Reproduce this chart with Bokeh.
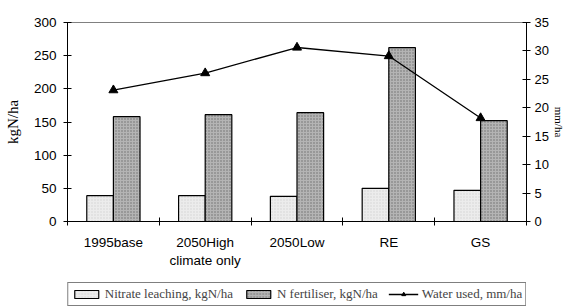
import numpy as np
from bokeh.plotting import figure
from bokeh.layouts import column
from bokeh.models import Range1d, LinearAxis, FixedTicker, Legend, LegendItem, ColumnDataSource
from bokeh.embed import file_html
from bokeh.resources import INLINE

categories = ["1995base", "2050High\nclimate only", "2050Low", "RE", "GS"]
nitrate = [39, 39, 38, 50, 47]
fertiliser = [158, 161, 164, 262, 152]
water = [23.1, 26.1, 30.6, 29.1, 18.2]
series_names = ["Nitrate leaching, kgN/ha", "N fertiliser, kgN/ha", "Water used, mm/ha"]

idx = np.arange(len(categories)) + 0.5
src = ColumnDataSource(dict(
    x_n=idx - 0.145, x_f=idx + 0.145, x=idx,
    nitrate=nitrate, fert=fertiliser, water=water))

nit_style = dict(fill_color="#ececec", line_color="black", line_width=1.2,
                 hatch_pattern="dot", hatch_color="#d2d2d2", hatch_scale=3, hatch_weight=1)
fert_style = dict(fill_color="#b4b4b4", line_color="black", line_width=1.2,
                  hatch_pattern="dot", hatch_color="#6e6e6e", hatch_scale=3, hatch_weight=1.5)

p = figure(output_backend="svg", toolbar_location=None,
           width=567, height=270,
           min_border_left=67, min_border_right=32, min_border_top=22, min_border_bottom=48,
           x_range=Range1d(0, len(categories)), y_range=Range1d(0, 300),
           x_axis_location=None, y_axis_location=None)
p.extra_y_ranges = {"water": Range1d(0, 35)}
p.xgrid.visible = False
p.ygrid.visible = False
p.outline_line_color = "#808080"
p.outline_line_width = 1

tick_font = "Liberation Sans"
serif = "Liberation Serif"

yl = LinearAxis(ticker=FixedTicker(ticks=list(range(0, 301, 50))), axis_label="kgN/ha")
yr = LinearAxis(y_range_name="water", ticker=FixedTicker(ticks=list(range(0, 36, 5))), axis_label="mm/ha")
for ax in (yl, yr):
    ax.major_tick_in = 4
    ax.major_tick_out = 4
    ax.minor_tick_line_color = None
    ax.axis_line_color = "black"
    ax.major_tick_line_color = "black"
    ax.major_label_text_font = tick_font
    ax.major_label_text_color = "black"
    ax.axis_label_text_font = serif
    ax.axis_label_text_font_style = "normal"
    ax.axis_label_text_color = "black"
yl.major_label_text_font_size = "13.5px"
yl.major_label_standoff = 7
yl.axis_label_text_font_size = "15px"
yl.axis_label_standoff = 10
yr.major_label_text_font_size = "13px"
yr.major_label_standoff = 4
yr.axis_label_text_font_size = "11px"
yr.axis_label_standoff = 1
p.add_layout(yl, "left")
p.add_layout(yr, "right")

xl = LinearAxis(ticker=FixedTicker(ticks=list(idx), minor_ticks=list(range(0, len(categories) + 1))),
                major_label_overrides={float(v): c for v, c in zip(idx, categories)})
xl.axis_line_color = "black"
xl.major_tick_line_color = None
xl.major_tick_out = 4
xl.major_tick_in = 0
xl.minor_tick_line_color = "black"
xl.minor_tick_in = 4
xl.minor_tick_out = 4
xl.major_label_text_font = tick_font
xl.major_label_text_font_size = "13.5px"
xl.major_label_text_color = "black"
xl.major_label_standoff = 9
p.add_layout(xl, "below")

p.vbar(x="x_n", top="nitrate", width=0.29, source=src, **nit_style)
p.vbar(x="x_f", top="fert", width=0.29, source=src, **fert_style)
p.line(x="x", y="water", source=src, y_range_name="water", line_color="black", line_width=1.3)
p.scatter(x="x", y="water", source=src, y_range_name="water",
          marker="triangle", size=9, fill_color="black", line_color="black")

# legend strip below the chart (its renderers sit outside its visible range)
lg = figure(output_backend="svg", toolbar_location=None, width=567, height=36,
            min_border=0, x_range=Range1d(100, 101), y_range=Range1d(1000, 1001),
            x_axis_location=None, y_axis_location=None)
lg.xgrid.visible = False
lg.ygrid.visible = False
lg.outline_line_color = None
l_n = lg.vbar(x="x", top="nitrate", width=0.29, source=src, **nit_style)
l_f = lg.vbar(x="x", top="fert", width=0.29, source=src, **fert_style)
l_w = lg.line(x="x", y="water", source=src, line_color="black", line_width=1.3)
l_m = lg.scatter(x="x", y="water", source=src, marker="triangle", size=9,
                 fill_color="black", line_color="black")

legend = Legend(items=[
    LegendItem(label=series_names[0], renderers=[l_n]),
    LegendItem(label=series_names[1], renderers=[l_f]),
    LegendItem(label=series_names[2], renderers=[l_w, l_m]),
], orientation="horizontal", location="bottom_center")
legend.label_text_font = serif
legend.label_text_font_size = "13px"
legend.label_standoff = 4
legend.glyph_width = 30
legend.glyph_height = 10
legend.spacing = 10
legend.padding = 3
legend.margin = 0
legend.border_line_color = "black"
legend.border_line_width = 1
legend.label_height = 12
lg.add_layout(legend, "center")

layout = column(p, lg, spacing=0)
open("out.html", "w").write(file_html(layout, INLINE))
